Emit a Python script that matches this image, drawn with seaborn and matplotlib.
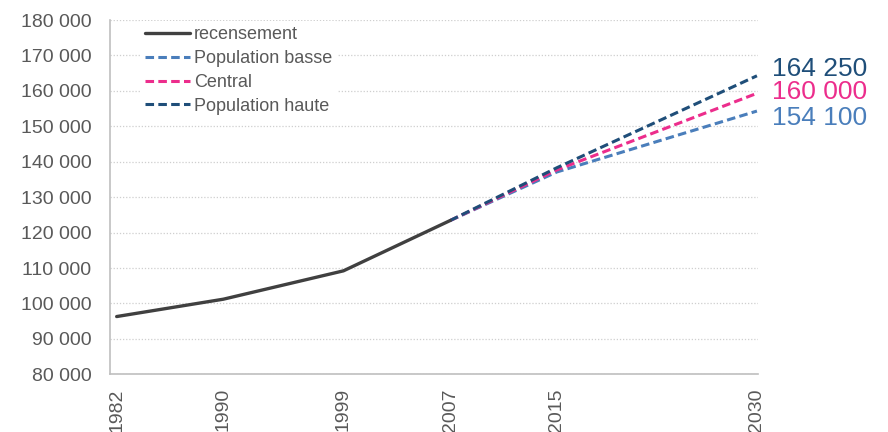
import matplotlib
matplotlib.use("Agg")
import matplotlib.pyplot as plt
import seaborn as sns
import pandas as pd

# ---- data ----
annees_recensement = [1982, 1990, 1999, 2007]
recensement = [96300, 101200, 109200, 123400]

annees_projection = [2007, 2015, 2030]
population_basse = [123400, 137100, 154300]
central = [123400, 137700, 159300]
population_haute = [123400, 138300, 164250]

tick_annees = [1982, 1990, 1999, 2007, 2015, 2030]
labels_fin = ["164 250", "160 000", "154 100"]

# ---- style ----
sns.set_theme(style="white")
plt.rcParams["font.family"] = ["Liberation Sans", "DejaVu Sans"]

txt = "#595959"
c_rec = "#404040"
c_basse = "#4A7EBB"
c_central = "#EC2D8C"
c_haute = "#1F4E79"

fig = plt.figure(figsize=(8.88, 4.32), dpi=100)
ax = fig.add_axes([110 / 888, 1 - 374.3 / 432, (758 - 110) / 888, (374.3 - 20) / 432])

df_rec = pd.DataFrame({"annee": annees_recensement, "pop": recensement})
df_b = pd.DataFrame({"annee": annees_projection, "pop": population_basse})
df_c = pd.DataFrame({"annee": annees_projection, "pop": central})
df_h = pd.DataFrame({"annee": annees_projection, "pop": population_haute})

dash = (0, (2.8, 1.4))
lw = 2.2
sns.lineplot(data=df_rec, x="annee", y="pop", ax=ax, color=c_rec, lw=2.4,
             label="recensement", zorder=5)
sns.lineplot(data=df_b, x="annee", y="pop", ax=ax, color=c_basse, lw=lw,
             linestyle=dash, label="Population basse", zorder=4)
sns.lineplot(data=df_c, x="annee", y="pop", ax=ax, color=c_central, lw=lw,
             linestyle=dash, label="Central", zorder=4)
sns.lineplot(data=df_h, x="annee", y="pop", ax=ax, color=c_haute, lw=lw,
             linestyle=dash, label="Population haute", zorder=4)

ax.set_xlim(1981.5, 2030.08)
ax.set_ylim(80000, 180000)
ax.set_xticks(tick_annees)
ax.set_xticklabels([str(a) for a in tick_annees], rotation=90)
yt = list(range(80000, 180001, 10000))
ax.set_yticks(yt)
ax.set_yticklabels([f"{v:,}".replace(",", " ") for v in yt])
ax.set_xlabel("")
ax.set_ylabel("")

ax.tick_params(axis="both", length=0, labelsize=14, labelcolor=txt)
ax.tick_params(axis="y", pad=13.5)
ax.tick_params(axis="x", pad=10)

ax.grid(axis="y", color="#cfcfcf", linestyle=(0, (1, 1.5)), linewidth=0.9)
ax.grid(axis="x", visible=False)
for s in ["top", "right"]:
    ax.spines[s].set_visible(False)
for s in ["left", "bottom"]:
    ax.spines[s].set_color("#bfbfbf")
    ax.spines[s].set_linewidth(1.2)

leg = ax.legend(loc="upper left", bbox_to_anchor=(0.046, 0.998), frameon=True,
                fontsize=13, handlelength=2.5, handletextpad=0.2,
                labelspacing=0.38, borderpad=0.3, borderaxespad=0)
leg.get_frame().set_facecolor("white")
leg.get_frame().set_edgecolor("none")
leg.get_frame().set_alpha(1)
leg.set_zorder(10)
for t in leg.get_texts():
    t.set_color(txt)

# end labels (baseline offsets in pixels from each line end)
fins = [population_haute[-1], central[-1], population_basse[-1]]
couleurs = [c_haute, c_central, c_basse]
decal = [0, -6, -14]
for lab, v, c, d in zip(labels_fin, fins, couleurs, decal):
    ax.annotate(lab, xy=(annees_projection[-1], v), xytext=(15, d),
                textcoords="offset pixels", ha="left", va="baseline",
                fontsize=19, color=c, annotation_clip=False)

fig.savefig("out.png", dpi=100)
